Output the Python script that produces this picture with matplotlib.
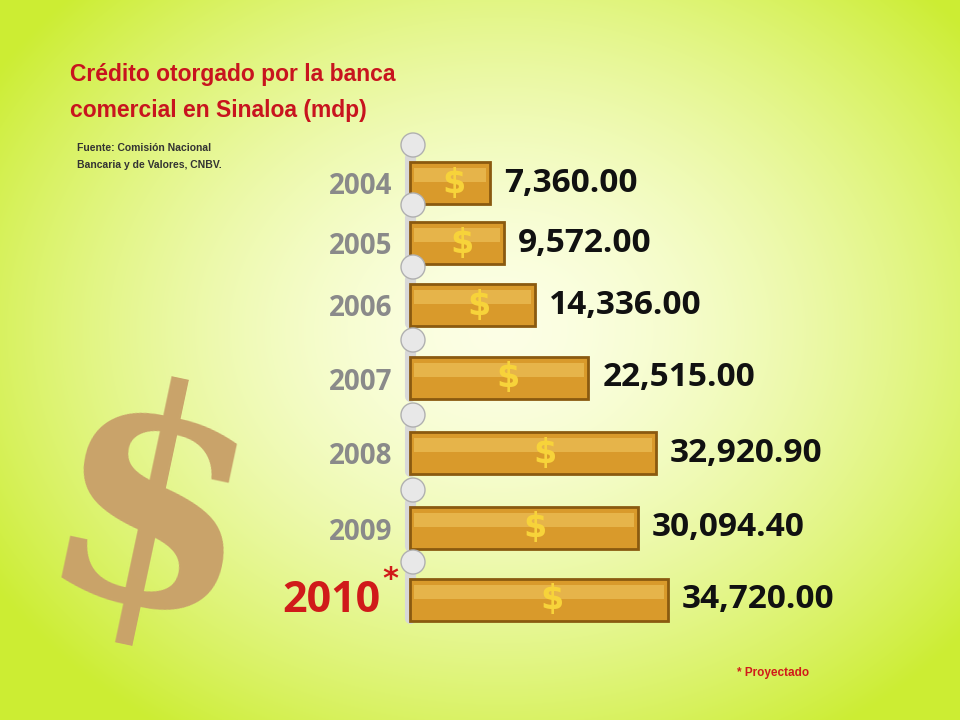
import numpy as np
import matplotlib.pyplot as plt

years = ["2004", "2005", "2006", "2007", "2008", "2009", "2010"]
values = [7360.00, 9572.00, 14336.00, 22515.00, 32920.90, 30094.40, 34720.00]
value_labels = ["7,360.00", "9,572.00", "14,336.00", "22,515.00", "32,920.90", "30,094.40", "34,720.00"]
y_pos = [183, 243, 305, 378, 453, 528, 600]

fig = plt.figure(figsize=(9.6, 7.2), dpi=100)
ax = fig.add_axes([0, 0, 1, 1])
ax.set_xlim(0, 960)
ax.set_ylim(720, 0)
ax.axis("off")

# radial background: pale centre, lime edges
yy, xx = np.mgrid[0:720, 0:960]
r = np.sqrt(((xx - 500) / 600) ** 2 + ((yy - 330) / 480) ** 2)
r = np.clip(r, 0, 1)
inner = np.array([0.99, 1.0, 0.90])
outer = np.array([0.80, 0.93, 0.20])
img = inner[None, None, :] * (1 - r[..., None] ** 1.6) + outer[None, None, :] * (r[..., None] ** 1.6)
ax.imshow(img, extent=[0, 960, 720, 0], zorder=0, aspect="auto")

# big decorative dollar sign
ax.text(150, 525, "$", fontsize=215, fontweight="bold", color="#c9a36a", ha="center", va="center",
        rotation=-12, zorder=1, family="DejaVu Serif")

ax.text(70, 75, "Crédito otorgado por la banca", color="#c8141e", fontsize=16.5, fontweight="bold",
        va="center", family="Liberation Sans")
ax.text(70, 110, "comercial en Sinaloa (mdp)", color="#c8141e", fontsize=16.5, fontweight="bold",
        va="center", family="Liberation Sans")
ax.text(77, 148, "Fuente: Comisión Nacional", fontsize=7.5, fontweight="bold", va="center",
        family="Liberation Sans", color="#333333")
ax.text(77, 165, "Bancaria y de Valores, CNBV.", fontsize=7.5, fontweight="bold", va="center",
        family="Liberation Sans", color="#333333")

x0 = 410
for yr, v, lab, y in zip(years, values, value_labels, y_pos):
    w = 32 + 0.0065 * v
    ax.barh(y, w, left=x0, height=42, color="#d99a2b", edgecolor="#8a5a10", linewidth=2, zorder=3)
    ax.barh(y - 8, w - 8, left=x0 + 4, height=14, color="#f0c760", linewidth=0, zorder=3, alpha=0.6)
    ax.text(x0 + w * 0.55, y, "$", fontsize=24, fontweight="bold", color="#f7d33a", ha="center",
            va="center", zorder=4)
    ax.text(x0 + w + 14, y, lab, fontsize=24, fontweight="bold", color="#111111", va="center",
            zorder=4, family="Open Sans")
    if yr == "2010":
        ax.text(380, y, "2010", fontsize=31, fontweight="bold", color="#d01a1a", ha="right",
                va="center", family="Open Sans", zorder=4)
        ax.text(382, y - 20, "*", fontsize=22, fontweight="bold", color="#d01a1a", ha="left",
                va="center", zorder=4)
    else:
        ax.text(392, y + 4, yr, fontsize=20, fontweight="bold", color="#8a8a8a", ha="right",
                va="center", family="Open Sans", zorder=4)
    # little figure holding the bar
    ax.add_patch(plt.Circle((413, y - 38), 12, color="#e8e8e8", ec="#b0b0b0", zorder=5))
    ax.plot([410, 410], [y - 26, y + 18], color="#d8d8d8", lw=8, solid_capstyle="round", zorder=2)

ax.text(737, 673, "* Proyectado", color="#d01a1a", fontsize=8.5, fontweight="bold", va="center",
        family="Liberation Sans")

fig.savefig("out.png", dpi=100)
